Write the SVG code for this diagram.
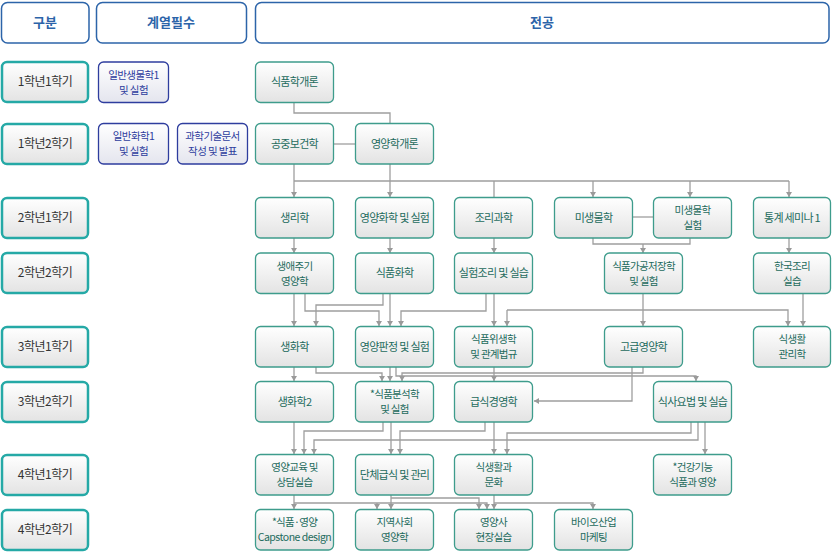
<svg xmlns="http://www.w3.org/2000/svg" width="832" height="556" viewBox="0 0 832 556">
<defs>
<linearGradient id="gc" x1="0" y1="0" x2="0" y2="1"><stop offset="0" stop-color="#ffffff"/><stop offset="1" stop-color="#e3e3e3"/></linearGradient>
<linearGradient id="gn" x1="0" y1="0" x2="0" y2="1"><stop offset="0" stop-color="#ffffff"/><stop offset="1" stop-color="#e4e5ee"/></linearGradient>
<marker id="ar" markerUnits="userSpaceOnUse" markerWidth="7" markerHeight="7" refX="5" refY="3" orient="auto"><path d="M0,0 L5,3 L0,6 z" fill="#9a9a9a"/></marker>
<style>
text{font-family:"Noto Sans CJK KR","Noto Sans",sans-serif;text-anchor:middle}
.hd rect{fill:#fff;stroke:#2c64a9;stroke-width:1.5}
.hd text{fill:#2c64a9;font-size:13px;font-weight:bold}
.rl rect{fill:url(#gc);stroke:#25a9a6;stroke-width:2.5}
.rl text{fill:#333;font-size:12px;letter-spacing:-0.5px}
.rq rect{fill:url(#gn);stroke:#2e3d9e;stroke-width:1.3}
.rq text{fill:#2e3d9e;font-size:11px;letter-spacing:-0.6px}
.rq text.t2{font-size:10.5px}
.cn rect{fill:url(#gc);stroke:#3e9c8c;stroke-width:1.3}
.cn text{fill:#1d6b5d;font-size:11px;letter-spacing:-0.7px}
.cn text.t2{font-size:10.5px}
.cx path{fill:none;stroke:#9e9e9e;stroke-width:1.3}
.cx path.a{marker-end:url(#ar)}
</style>
</defs>
<rect width="832" height="556" fill="#fff"/>

<g id="connectors" class="cx">
<path d="M294,103 V113 H390 V123"/>
<path d="M333,144 H355"/>
<path class="a" d="M294,164 V197"/>
<path class="a" d="M390,164 V197"/>
<path d="M294,181 H789"/>
<path d="M494,181 V197"/>
<path class="a" d="M593,181 V197"/>
<path class="a" d="M690,181 V197"/>
<path class="a" d="M789,181 V197"/>
<path d="M632,217 H653"/>
<path class="a" d="M294,238 V253"/>
<path class="a" d="M390,238 V253"/>
<path class="a" d="M494,238 V253"/>
<path d="M593,238 V244 H690 V238"/>
<path class="a" d="M643,244 V253"/>
<path class="a" d="M789,238 V253"/>
<path class="a" d="M294,293 V326"/>
<path class="a" d="M305,293 V311 H379 V326"/>
<path class="a" d="M383,293 V305 H316 V326"/>
<path class="a" d="M390,293 V326"/>
<path class="a" d="M486,293 V311 H401 V326"/>
<path class="a" d="M494,293 V326"/>
<path class="a" d="M643,293 V326"/>
<path class="a" d="M507,310 V326"/>
<path class="a" d="M507,310 H788 V326"/>
<path class="a" d="M803,293 V326"/>
<path class="a" d="M294,367 V381"/>
<path class="a" d="M316,367 V373 H382 V381"/>
<path class="a" d="M390,367 V381"/>
<path class="a" d="M396,367 V376 H696 V381"/>
<path class="a" d="M643,367 V373 H402 V381"/>
<path class="a" d="M494,367 V381"/>
<path class="a" d="M632,367 V401 H534"/>
<path class="a" d="M294,422 V454"/>
<path class="a" d="M383,422 V431 H304 V454"/>
<path class="a" d="M391,422 V454"/>
<path class="a" d="M485,422 V431 H400 V454"/>
<path class="a" d="M494,422 V454"/>
<path class="a" d="M691,422 V433 H507 V454"/>
<path class="a" d="M698,422 V440 H314 V454"/>
<path class="a" d="M705,422 V454"/>
<path class="a" d="M294,495 V509"/>
<path class="a" d="M294,503 H487 V509"/>
<path class="a" d="M377,503 V509"/>
<path class="a" d="M391,495 V509"/>
<path class="a" d="M391,498 H479 V509"/>
<path class="a" d="M494,495 V509"/>
<path class="a" d="M494,503 H593 V509"/>
</g>

<g id="h-gubun" class="hd"><rect x="1.5" y="2.5" width="87.5" height="40.5" rx="6"/><text x="45" y="27">구분</text></g>
<g id="h-req" class="hd"><rect x="96.5" y="2.5" width="150" height="40.5" rx="6"/><text x="171" y="27">계열필수</text></g>
<g id="h-major" class="hd"><rect x="255.5" y="2.5" width="573.5" height="40.5" rx="6"/><text x="542" y="27">전공</text></g>

<g id="r11" class="rl"><rect x="2" y="62" width="86" height="40" rx="5"/><text x="45" y="86">1학년1학기</text></g>
<g id="r12" class="rl"><rect x="2" y="124" width="86" height="40" rx="5"/><text x="45" y="148">1학년2학기</text></g>
<g id="r21" class="rl"><rect x="2" y="198" width="86" height="40" rx="5"/><text x="45" y="222">2학년1학기</text></g>
<g id="r22" class="rl"><rect x="2" y="253" width="86" height="40" rx="5"/><text x="45" y="277">2학년2학기</text></g>
<g id="r31" class="rl"><rect x="2" y="327" width="86" height="40" rx="5"/><text x="45" y="351">3학년1학기</text></g>
<g id="r32" class="rl"><rect x="2" y="382" width="86" height="40" rx="5"/><text x="45" y="406">3학년2학기</text></g>
<g id="r41" class="rl"><rect x="2" y="455" width="86" height="40" rx="5"/><text x="45" y="479">4학년1학기</text></g>
<g id="r42" class="rl"><rect x="2" y="510" width="86" height="40" rx="5"/><text x="45" y="534">4학년2학기</text></g>

<g id="q-bio" class="rq"><rect x="98.5" y="62" width="70" height="40.5" rx="5"/><text class="t2" x="133.5" y="78.5">일반생물학1</text><text class="t2" x="133.5" y="93.5">및 실험</text></g>
<g id="q-chem" class="rq"><rect x="98.5" y="123.5" width="70" height="40.5" rx="5"/><text class="t2" x="133.5" y="140">일반화학1</text><text class="t2" x="133.5" y="155">및 실험</text></g>
<g id="q-doc" class="rq"><rect x="177.5" y="123.5" width="70" height="40.5" rx="5"/><text class="t2" x="212.5" y="140">과학기술문서</text><text class="t2" x="212.5" y="155">작성 및 발표</text></g>

<g id="n-food-intro" class="cn"><rect x="255.5" y="62" width="78" height="40.5" rx="5"/><text x="294.5" y="86">식품학개론</text></g>
<g id="n-public-health" class="cn"><rect x="255.5" y="123.5" width="78" height="40.5" rx="5"/><text x="294.5" y="148">공중보건학</text></g>
<g id="n-nutr-intro" class="cn"><rect x="355.5" y="123.5" width="78" height="40.5" rx="5"/><text x="394.5" y="148">영양학개론</text></g>

<g id="n-physiology" class="cn"><rect x="255.5" y="197.5" width="78" height="40.5" rx="5"/><text x="294.5" y="222">생리학</text></g>
<g id="n-nutr-chem" class="cn"><rect x="355.5" y="197.5" width="78" height="40.5" rx="5"/><text x="394.5" y="222">영양화학 및 실험</text></g>
<g id="n-cooking-sci" class="cn"><rect x="454.5" y="197.5" width="78" height="40.5" rx="5"/><text x="493.5" y="222">조리과학</text></g>
<g id="n-micro" class="cn"><rect x="554.5" y="197.5" width="78" height="40.5" rx="5"/><text x="593.5" y="222">미생물학</text></g>
<g id="n-micro-lab" class="cn"><rect x="653.5" y="197.5" width="78" height="40.5" rx="5"/><text class="t2" x="692.5" y="214">미생물학</text><text class="t2" x="692.5" y="229">실험</text></g>
<g id="n-stat" class="cn"><rect x="753.5" y="197.5" width="77" height="40.5" rx="5"/><text x="792" y="222">통계 세미나 1</text></g>

<g id="n-lifecycle" class="cn"><rect x="255.5" y="253" width="78" height="40.5" rx="5"/><text class="t2" x="294.5" y="269.5">생애주기</text><text class="t2" x="294.5" y="284.5">영양학</text></g>
<g id="n-food-chem" class="cn"><rect x="355.5" y="253" width="78" height="40.5" rx="5"/><text x="394.5" y="277">식품화학</text></g>
<g id="n-exp-cooking" class="cn"><rect x="454.5" y="253" width="78" height="40.5" rx="5"/><text x="493.5" y="277">실험조리 및 실습</text></g>
<g id="n-food-proc" class="cn"><rect x="604.5" y="253" width="78" height="40.5" rx="5"/><text class="t2" x="643.5" y="269.5">식품가공저장학</text><text class="t2" x="643.5" y="284.5">및 실험</text></g>
<g id="n-korean-cook" class="cn"><rect x="753.5" y="253" width="77" height="40.5" rx="5"/><text class="t2" x="792" y="269.5">한국조리</text><text class="t2" x="792" y="284.5">실습</text></g>

<g id="n-biochem" class="cn"><rect x="255.5" y="326.5" width="78" height="40.5" rx="5"/><text x="294.5" y="351">생화학</text></g>
<g id="n-nutr-assess" class="cn"><rect x="355.5" y="326.5" width="78" height="40.5" rx="5"/><text x="394.5" y="351">영양판정 및 실험</text></g>
<g id="n-food-hygiene" class="cn"><rect x="454.5" y="326.5" width="78" height="40.5" rx="5"/><text class="t2" x="493.5" y="343">식품위생학</text><text class="t2" x="493.5" y="358">및 관계법규</text></g>
<g id="n-adv-nutr" class="cn"><rect x="604.5" y="326.5" width="78" height="40.5" rx="5"/><text x="643.5" y="351">고급영양학</text></g>
<g id="n-diet-mgmt" class="cn"><rect x="753.5" y="326.5" width="77" height="40.5" rx="5"/><text class="t2" x="792" y="343">식생활</text><text class="t2" x="792" y="358">관리학</text></g>

<g id="n-biochem2" class="cn"><rect x="255.5" y="381.5" width="78" height="40.5" rx="5"/><text x="294.5" y="406">생화학2</text></g>
<g id="n-food-anal" class="cn"><rect x="355.5" y="381.5" width="78" height="40.5" rx="5"/><text class="t2" x="394.5" y="398">*식품분석학</text><text class="t2" x="394.5" y="413">및 실험</text></g>
<g id="n-food-service" class="cn"><rect x="454.5" y="381.5" width="78" height="40.5" rx="5"/><text x="493.5" y="406">급식경영학</text></g>
<g id="n-diet-therapy" class="cn"><rect x="653.5" y="381.5" width="78" height="40.5" rx="5"/><text x="692.5" y="406">식사요법 및 실습</text></g>

<g id="n-nutr-edu" class="cn"><rect x="255.5" y="454.5" width="78" height="40.5" rx="5"/><text class="t2" x="294.5" y="471">영양교육 및</text><text class="t2" x="294.5" y="486">상담실습</text></g>
<g id="n-group-meal" class="cn"><rect x="355.5" y="454.5" width="78" height="40.5" rx="5"/><text x="394.5" y="479">단체급식 및 관리</text></g>
<g id="n-diet-culture" class="cn"><rect x="454.5" y="454.5" width="78" height="40.5" rx="5"/><text class="t2" x="493.5" y="471">식생활과</text><text class="t2" x="493.5" y="486">문화</text></g>
<g id="n-functional" class="cn"><rect x="653.5" y="454.5" width="78" height="40.5" rx="5"/><text class="t2" x="692.5" y="471">*건강기능</text><text class="t2" x="692.5" y="486">식품과 영양</text></g>

<g id="n-capstone" class="cn"><rect x="255.5" y="509.5" width="78" height="40.5" rx="5"/><text class="t2" x="294.5" y="526">*식품·영양</text><text class="t2" x="294.5" y="541" style="letter-spacing:-0.5px">Capstone design</text></g>
<g id="n-community" class="cn"><rect x="355.5" y="509.5" width="78" height="40.5" rx="5"/><text class="t2" x="394.5" y="526">지역사회</text><text class="t2" x="394.5" y="541">영양학</text></g>
<g id="n-dietitian" class="cn"><rect x="454.5" y="509.5" width="78" height="40.5" rx="5"/><text class="t2" x="493.5" y="526">영양사</text><text class="t2" x="493.5" y="541">현장실습</text></g>
<g id="n-bio-marketing" class="cn"><rect x="554.5" y="509.5" width="78" height="40.5" rx="5"/><text class="t2" x="593.5" y="526">바이오산업</text><text class="t2" x="593.5" y="541">마케팅</text></g>
</svg>
